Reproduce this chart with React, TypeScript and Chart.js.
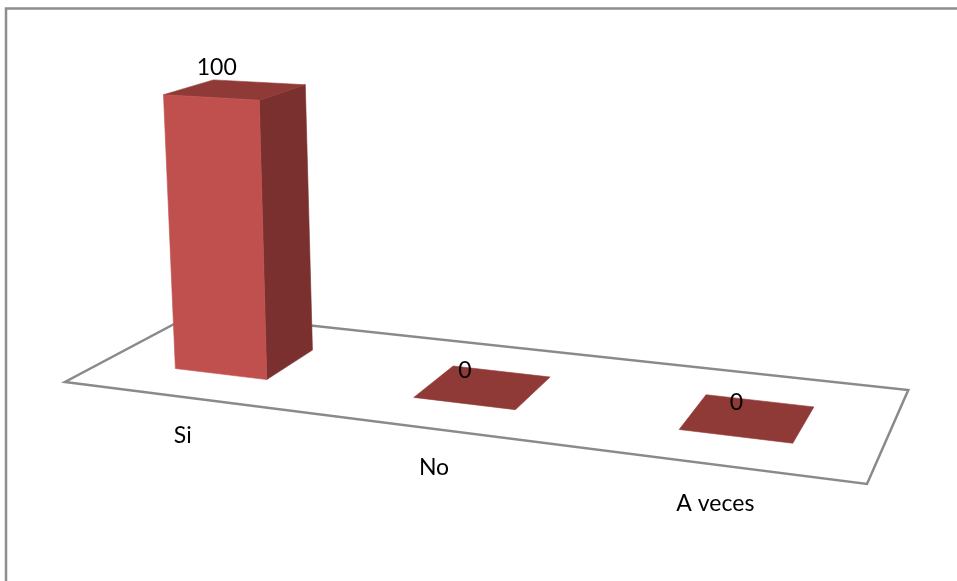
import React, { useEffect, useRef } from "react";
import { Chart, registerables } from "chart.js";

Chart.register(...registerables);

const categories = ["Si", "No", "A veces"];
const seriesValues = [100, 0, 0];

// Perspective of the floor plane: (u, v) on the unit square to canvas pixels.
const FLOOR = { a: 666.5, b: 156, c: 65, d: 26.35, e: -27.23, f: 382, g: -0.1563, h: 0.13345 };
const RISE = -280; // vertical numerator shift at full scale height
const DEPTH_FRONT = 0.29;
const DEPTH_BACK = 0.69;
const BAR_SHIFT = 0.003; // bars sit slightly right of their category centres

const COLORS = { front: "#C0504D", top: "#903A38", side: "#7A302E", floor: "#8A8A8A", border: "#8E8E8E" };
const FONT = "23px Lato, 'Noto Sans', sans-serif";

function project(u: number, v: number, w: number, lean = 1): [number, number] {
  const { a, b, c, d, e, f, g, h } = FLOOR;
  const den = g * u + h * v + 1;
  const spread = (-15.8 + 35 * u) * lean;
  return [(a * u + b * v + c + spread * w) / den, (d * u + e * v + f + RISE * w) / den];
}

// Fill and hairline-stroke one face so neighbouring faces leave no pale seam.
function face(ctx: CanvasRenderingContext2D, pts: [number, number][], color: string) {
  ctx.fillStyle = color;
  ctx.strokeStyle = color;
  ctx.lineWidth = 0.6;
  ctx.beginPath();
  pts.forEach(([x, y], i) => (i ? ctx.lineTo(x, y) : ctx.moveTo(x, y)));
  ctx.closePath();
  ctx.fill();
  ctx.stroke();
}

const perspectiveBars = {
  id: "perspectiveBars",
  beforeDatasetsDraw(chart: any) {
    const { ctx } = chart;
    ctx.save();
    // Frame of the chart object: only its top and left rules fall on the canvas.
    ctx.strokeStyle = COLORS.border;
    ctx.lineWidth = 2.5;
    ctx.beginPath();
    ctx.moveTo(6, 581);
    ctx.lineTo(6, 8.5);
    ctx.lineTo(957, 8.5);
    ctx.stroke();
    // Floor outline.
    ctx.strokeStyle = COLORS.floor;
    ctx.lineWidth = 2.5;
    ctx.lineJoin = "miter";
    ctx.beginPath();
    const corners: [number, number][] = [[0, 0], [1, 0], [1, 1], [0, 1]];
    corners.forEach(([u, v], i) => {
      const [x, y] = project(u, v, 0);
      if (i) ctx.lineTo(x, y);
      else ctx.moveTo(x, y);
    });
    ctx.closePath();
    ctx.stroke();
    ctx.restore();
  },
  afterDatasetsDraw(chart: any) {
    const { ctx, chartArea } = chart;
    const span = chartArea.right - chartArea.left;
    const tall = chartArea.bottom - chartArea.top;
    const bars = chart.getDatasetMeta(0).data;
    ctx.save();
    bars.forEach((bar: any) => {
      const u0 = (bar.x - bar.width / 2 - chartArea.left) / span + BAR_SHIFT;
      const u1 = (bar.x + bar.width / 2 - chartArea.left) / span + BAR_SHIFT;
      const w = (bar.base - bar.y) / tall;
      const fl = project(u0, DEPTH_FRONT, 0);
      const fr = project(u1, DEPTH_FRONT, 0);
      const br = project(u1, DEPTH_BACK, 0);
      const tfl = project(u0, DEPTH_FRONT, w);
      const tfr = project(u1, DEPTH_FRONT, w);
      const tbr = project(u1, DEPTH_BACK, w);
      const tbl = project(u0, DEPTH_BACK, w);
      if (w > 0) {
        face(ctx, [fr, br, tbr, tfr], COLORS.side);
        face(ctx, [tfl, tfr, tbr, tbl], COLORS.top);
        face(ctx, [fl, fr, tfr, tfl], COLORS.front);
      } else {
        face(ctx, [tfl, tfr, tbr, tbl], COLORS.top);
      }
    });
    // Category names and value labels.
    ctx.fillStyle = "#000";
    ctx.font = FONT;
    ctx.textAlign = "center";
    ctx.textBaseline = "middle";
    bars.forEach((bar: any, i: number) => {
      const u = (bar.x - chartArea.left) / span;
      const w = (bar.base - bar.y) / tall;
      const [ex, ey] = project(u, 0, 0);
      ctx.fillText(categories[i], ex + 2, ey + 39);
      const [tx, ty] = project(u + BAR_SHIFT, DEPTH_FRONT, w, 0.5);
      ctx.fillText(String(seriesValues[i]), tx + 1, ty - 31 - 3 * u + 2 * w);
    });
    ctx.restore();
  },
};

export default function App() {
  const ref = useRef<HTMLCanvasElement>(null);
  useEffect(() => {
    const chart = new Chart(ref.current!, {
      type: "bar",
      data: {
        labels: categories,
        datasets: [
          {
            data: seriesValues,
            backgroundColor: "rgba(0,0,0,0)",
            categoryPercentage: 1,
            barPercentage: 0.396,
          },
        ],
      },
      options: {
        animation: false,
        responsive: false,
        layout: { padding: 0 },
        plugins: { legend: { display: false }, tooltip: { enabled: false } },
        scales: {
          x: { display: false },
          y: { display: false, min: 0, max: 100 },
        },
      },
      plugins: [perspectiveBars],
    });
    return () => chart.destroy();
  }, []);
  return (
    <canvas
      ref={ref}
      width={957}
      height={581}
      style={{ position: "absolute", left: 0, top: 0, display: "block", background: "#fff" }}
    />
  );
}
